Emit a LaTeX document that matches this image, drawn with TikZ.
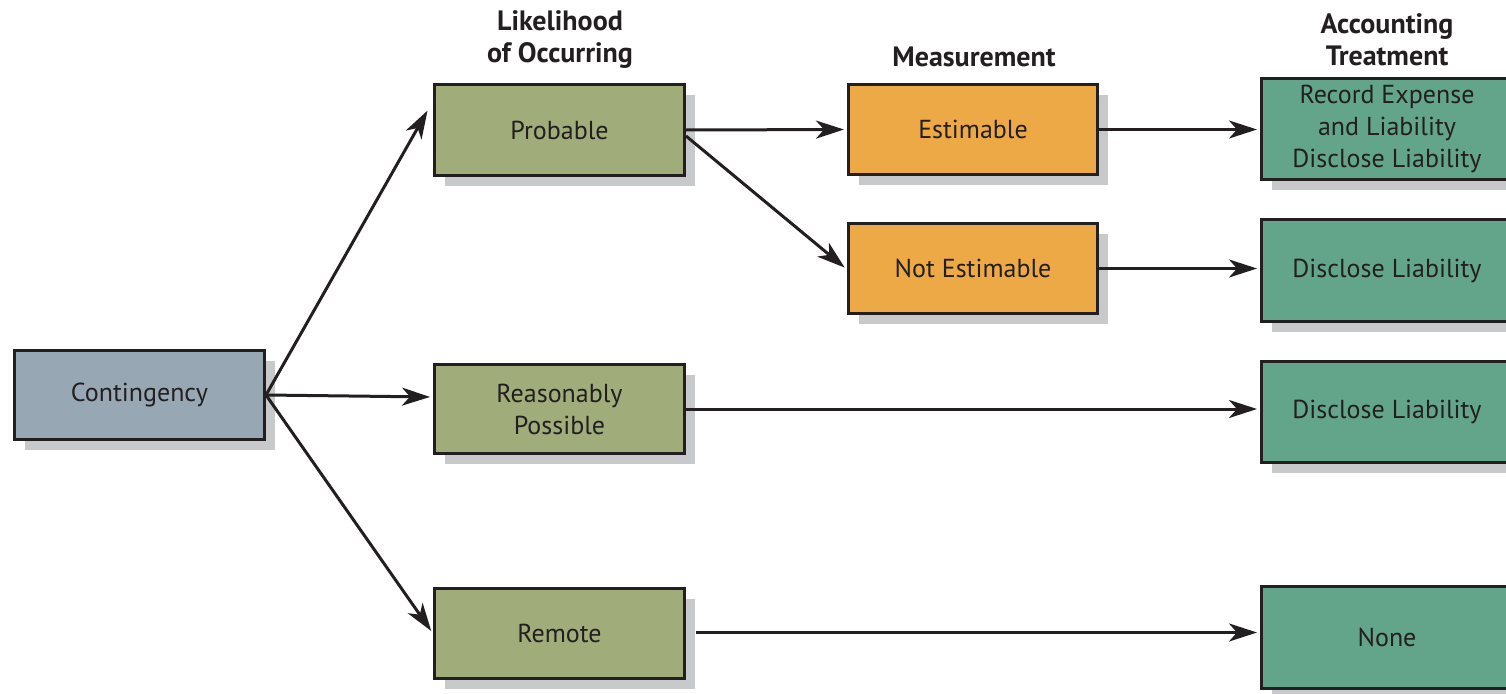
\documentclass[tikz,border=0pt]{standalone}
\usepackage{fontspec}
\setmainfont{PT Sans}
\usetikzlibrary{arrows.meta,shadows,calc}
\definecolor{ink}{HTML}{231F20}
\definecolor{shade}{HTML}{C8C9CB}
\definecolor{contc}{HTML}{97A8B4}
\definecolor{likec}{HTML}{A0AC7A}
\definecolor{measc}{HTML}{EDA946}
\definecolor{treatc}{HTML}{63A58B}
\tikzset{
  box/.style={draw=ink, line width=3pt, text=ink, align=center, inner sep=0pt,
    font=\fontsize{26}{32}\selectfont,
    drop shadow={shadow xshift=10pt, shadow yshift=-10pt, fill=shade, opacity=1}},
  hdr/.style={text=ink, align=center, font=\fontsize{28}{32}\selectfont\bfseries},
  arr/.style={draw=ink, line width=3pt, -{Stealth[length=28pt,width=18pt,inset=8pt]}, shorten >=3pt},
}
\begin{document}
\begin{tikzpicture}[x=1pt,y=-1pt]
\clip (0,0) rectangle (1506,693);
\fill[white] (0,0) rectangle (1506,693);
% headers
\node[hdr] (h1) at (560,40) {Likelihood\\of Occurring};
\node[hdr] (h2) at (974,57) {Measurement};
\node[hdr] (h3) at (1387,40) {Accounting\\Treatment};
% boxes
\node[box, fill=contc, minimum width=250pt, minimum height=89pt] (cont) at (139.5,395) {Contingency};
\node[box, fill=likec, minimum width=250pt, minimum height=91pt] (prob) at (559.5,130) {Probable};
\node[box, fill=likec, minimum width=250pt, minimum height=89pt] (rp) at (559.5,409) {Reasonably\\Possible};
\node[box, fill=likec, minimum width=250pt, minimum height=90pt] (rem) at (559.5,633.5) {Remote};
\node[box, fill=measc, minimum width=249pt, minimum height=90pt] (est) at (973,129.5) {Estimable};
\node[box, fill=measc, minimum width=249pt, minimum height=90pt] (nest) at (973,268.5) {Not Estimable};
\node[box, fill=treatc, minimum width=251pt, minimum height=101pt] (rec) at (1387,129) {Record Expense\\and Liability\\Disclose Liability};
\node[box, fill=treatc, minimum width=251pt, minimum height=102pt] (d1) at (1387,270.5) {Disclose Liability};
\node[box, fill=treatc, minimum width=251pt, minimum height=101pt] (d2) at (1387,412) {Disclose Liability};
\node[box, fill=treatc, minimum width=251pt, minimum height=102pt] (none) at (1387,637.5) {None};
% connectors
\draw[arr] (cont.east) -- ([xshift=-4pt,yshift=22pt]prob.west);
\draw[arr] (cont.east) -- ([yshift=12pt]rp.west);
\draw[arr] (cont.east) -- (rem.west);
\draw[arr] (prob.east) -- (est.west);
\draw[arr] ([yshift=-6pt]prob.east) -- ([yshift=-1pt]nest.west);
\draw[arr] (est.east) -- (est.east -| rec.west);
\draw[arr] (nest.east) -- (nest.east -| d1.west);
\draw[arr] (rp.east) -- (rp.east -| d2.west);
\draw[arr] ([xshift=10pt,yshift=1pt]rem.east) -- ([yshift=1pt]rem.east -| none.west);
\end{tikzpicture}
\end{document}
